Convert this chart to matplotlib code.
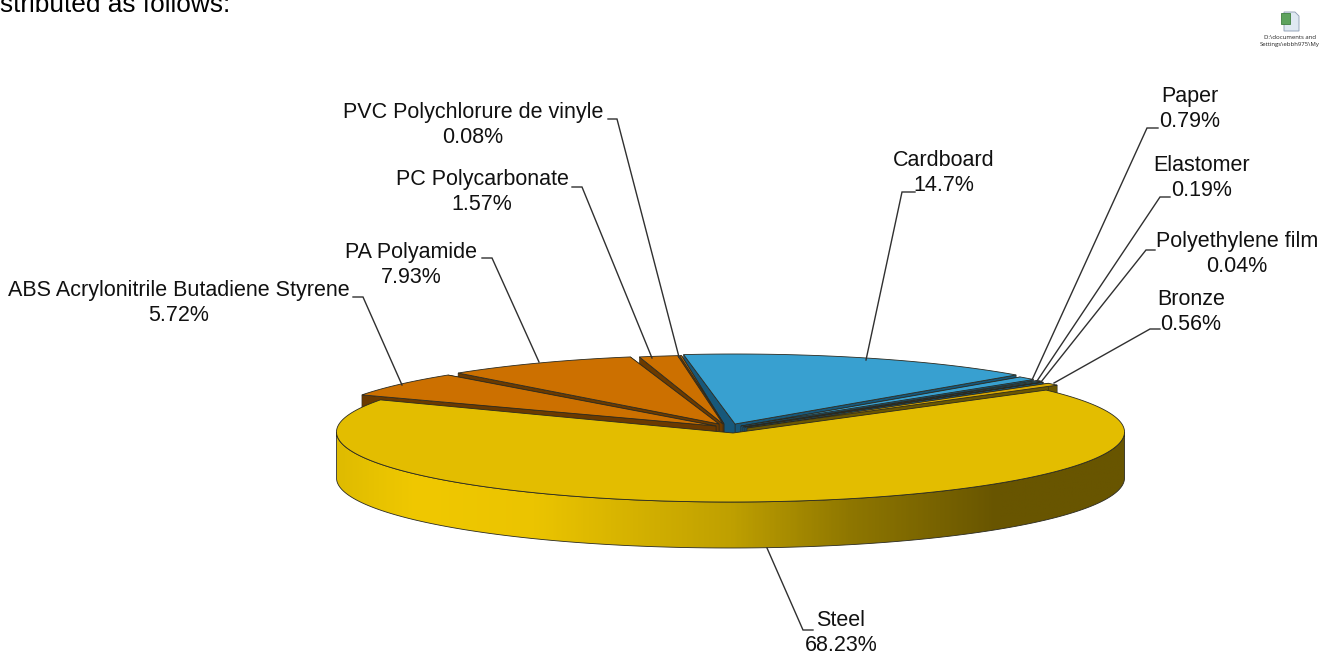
import numpy as np
import matplotlib
matplotlib.use("Agg")
import matplotlib.pyplot as plt
from matplotlib.patches import Polygon, Rectangle
from matplotlib.colors import LinearSegmentedColormap

plt.rcParams['font.family'] = ['Liberation Sans', 'DejaVu Sans']

# ---- data (clockwise from the start angle) ----
materials = ["Cardboard", "Paper", "Elastomer", "Polyethylene film", "Bronze", "Steel",
             "ABS Acrylonitrile Butadiene Styrene", "PA Polyamide", "PC Polycarbonate",
             "PVC Polychlorure de vinyle"]
shares = [14.7, 0.79, 0.19, 0.04, 0.56, 68.23, 5.72, 7.93, 1.57, 0.08]

# ---- style / layout ----
top_colors = ["#38a0d0", "#38a0d0", "#38a0d0", "#38a0d0", "#d9a900", "#e3bd00",
              "#cc7000", "#cc7000", "#cc7000", "#cc7000"]
cut_colors = ["#17587a", "#17587a", "#17587a", "#17587a", "#6b5700", "#6b5700",
              "#6b3a00", "#6b3a00", "#6b3a00", "#6b3a00"]
centre_x = [735, 739, 743, 745, 750, 733, 712, 722, 731, 733]
centre_y = [424, 426, 427, 428, 429, 433, 427, 425, 425, 425]
apex_x = [735, 741, 743, 745, 747, 733, 716, 719, 723, 724]
apex_y = [424, 426, 427, 427, 428, 433, 426, 424, 424, 424]
draw_order = [0, 1, 2, 3, 4, 9, 8, 7, 6, 5]
START, RX, RY, DEPTH = 97.5, 394, 70, 46
EDGE = "#2a2a20"

label_xy = [(944, 173), (1190, 109), (1202, 178), (1237, 254), (1191, 312), (841, 633),
            (179, 303), (411, 265), (482, 192), (473, 125)]
leaders = [[(915, 192), (902, 192), (866, 360)],
           [(1158, 128), (1147, 128), (1032, 380)],
           [(1170, 197), (1160, 197), (1037, 381)],
           [(1155, 250), (1146, 250), (1041, 382)],
           [(1160, 329), (1150, 329), (1054, 383)],
           [(813, 630), (803, 630), (767, 548)],
           [(353, 297), (363, 297), (402, 385)],
           [(482, 258), (492, 258), (539, 362)],
           [(572, 187), (582, 187), (652, 358)],
           [(608, 119), (617, 119), (679, 357)]]
side_stops = [(0.0, "#dfbb00"), (0.05, "#e8c300"), (0.10, "#f0c800"), (0.25, "#ebc400"),
              (0.50, "#bfa000"), (0.65, "#8f7700"), (0.84, "#685500"), (1.0, "#685500")]

fig = plt.figure(figsize=(13.3, 6.55), dpi=100)
ax = fig.add_axes([0, 0, 1, 1])
ax.set_xlim(0, 1330)
ax.set_ylim(655, 0)
ax.axis("off")

fractions = np.array(shares) / np.sum(shares)
ends = START - np.cumsum(fractions) * 360
starts = ends + fractions * 360


def arc(cx, cy, a0, a1, n=200):
    t = np.radians(np.linspace(a0, a1, n))
    return np.column_stack([cx + RX * np.cos(t), cy - RY * np.sin(t)])


# outer rim of the steel slice with a horizontal shading
steel = materials.index("Steel")
cx, cy = 730.5, 432
lower = arc(cx, cy, 180, 360)
rim = np.vstack([lower, (lower + [0, DEPTH])[::-1]])
rim_patch = Polygon(rim, closed=True, facecolor="none", edgecolor=EDGE, lw=0.6, zorder=2)
ax.add_patch(rim_patch)
cmap = LinearSegmentedColormap.from_list("rim", side_stops)
im = ax.imshow(np.linspace(0, 1, 400)[None, :], cmap=cmap, aspect="auto",
               extent=[cx - RX, cx + RX, cy + RY + DEPTH, cy - RY], zorder=1.5)
im.set_clip_path(rim_patch)
ax.set_xlim(0, 1330)
ax.set_ylim(655, 0)

# slices, back to front
z = 3
for i in draw_order:
    if i == steel:
        edge = arc(cx, cy, ends[i] + 0.0, starts[i] - 2.0, 400)
    else:
        edge = arc(centre_x[i], centre_y[i], ends[i], starts[i], max(6, int(fractions[i] * 400)))
    p = np.array([apex_x[i], apex_y[i]])
    if i != steel:
        for corner in (edge[0], edge[-1]):
            face = np.array([p, corner, corner + [0, DEPTH], p + [0, DEPTH]])
            ax.add_patch(Polygon(face, closed=True, facecolor=cut_colors[i],
                                 edgecolor=EDGE, lw=0.4, zorder=z))
    z += 1
    ax.add_patch(Polygon(np.vstack([p, edge]), closed=True, facecolor=top_colors[i],
                         edgecolor=EDGE, lw=0.6, zorder=z))
    z += 1

# leaders and labels
for name, val, (lx, ly), path in zip(materials, shares, label_xy, leaders):
    xs, ys = zip(*path)
    ax.plot(xs, ys, color="#303030", lw=1.0, zorder=30, solid_joinstyle="miter")
    ax.text(lx, ly - 12.5, name, ha="center", va="center", fontsize=15.5, color="#111111", zorder=31)
    ax.text(lx, ly + 12.5, f"{val:g}%", ha="center", va="center", fontsize=15.5, color="#111111", zorder=31)

# clipped caption and embedded file icon
ax.text(0, 12, "stributed as follows:", ha="left", va="baseline", fontsize=18.9, color="black")
ax.add_patch(Polygon([(1284, 12), (1295, 12), (1299, 16), (1299, 31), (1284, 31)], closed=True,
                     facecolor="#dfe8f2", edgecolor="#8a9ab0", lw=0.6))
ax.add_patch(Rectangle((1281, 13), 9, 11, facecolor="#5ea35e", edgecolor="#3f7f3f", lw=0.6))
ax.text(1290, 37.5, "D:\\documents and", ha="center", va="center", fontsize=4.3,
        family=["Open Sans", "DejaVu Sans"], color="#222222")
ax.text(1290, 44.5, "Settings\\ebbh975\\My", ha="center", va="center", fontsize=4.3,
        family=["Open Sans", "DejaVu Sans"], color="#222222")

fig.savefig("out.png", dpi=100)
